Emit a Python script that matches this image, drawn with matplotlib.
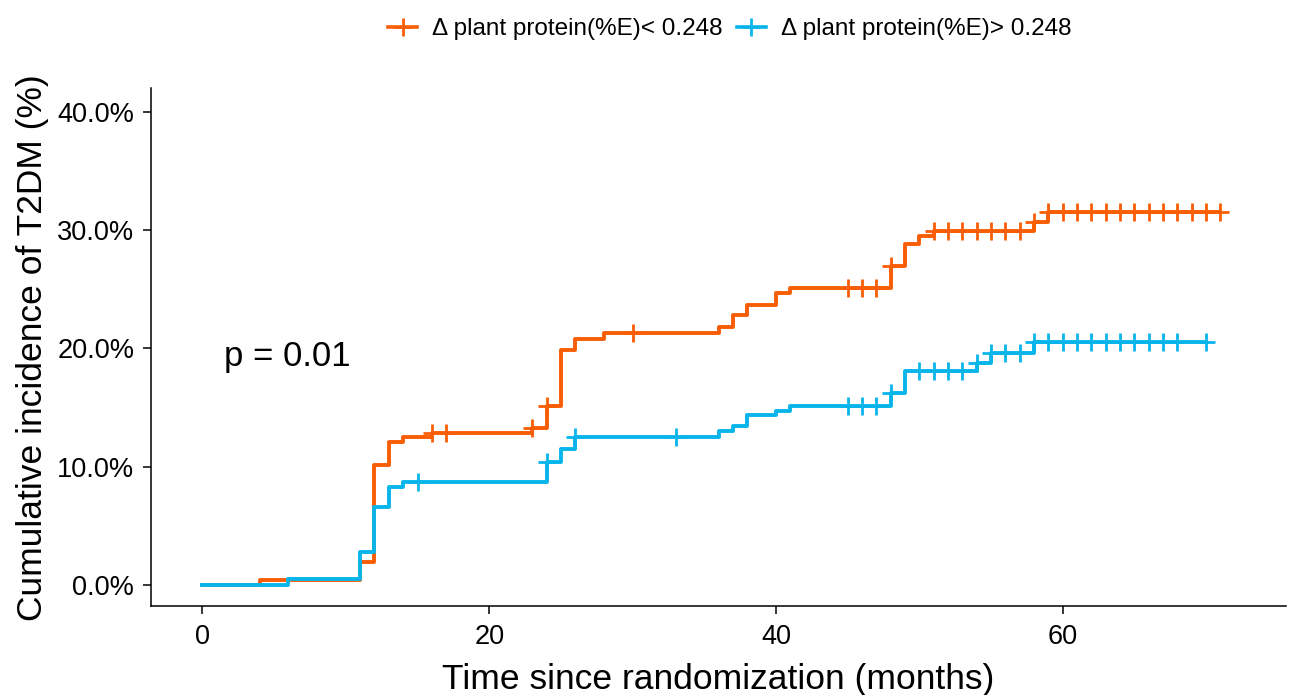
import numpy as np
import matplotlib
matplotlib.use('Agg')
from matplotlib import pyplot as plt
from matplotlib.lines import Line2D

plt.rcParams['font.family'] = ['Liberation Sans', 'DejaVu Sans']

# group: delta plant protein < 0.248
low_times = [0, 4, 11, 12, 13, 14, 16, 23, 24, 25, 26, 28, 36, 37, 38, 40, 41, 48, 49, 50, 51, 58, 59, 71]
low_cuminc = [0, 0.4, 1.9, 10.1, 12.1, 12.5, 12.8, 13.3, 15.1, 19.9, 20.8, 21.3, 21.8, 22.8, 23.7, 24.7, 25.1,
              27.0, 28.8, 29.5, 29.9, 30.7, 31.5, 31.5]
low_censor = [16, 17, 23, 24, 30, 45, 46, 47, 48, 51, 52, 53, 54, 55, 56, 57, 58,
              59, 60, 61, 62, 63, 64, 65, 66, 67, 68, 69, 70, 71]

# group: delta plant protein > 0.248
high_times = [0, 6, 11, 12, 13, 14, 24, 25, 26, 36, 37, 38, 40, 41, 48, 49, 54, 55, 58, 70]
high_cuminc = [0, 0.5, 2.8, 6.6, 8.3, 8.7, 10.4, 11.5, 12.5, 13.0, 13.4, 14.4, 14.7, 15.1,
               16.2, 18.1, 18.8, 19.6, 20.5, 20.5]
high_censor = [15, 24, 26, 33, 45, 46, 47, 48, 50, 51, 52, 53, 54, 55, 56, 57, 58,
               59, 60, 61, 62, 63, 64, 65, 66, 67, 68, 70]

labels = ['\u0394 plant protein(%E)< 0.248', '\u0394 plant protein(%E)> 0.248']
colors = ['#F95E04', '#08B5EA']
p_text = 'p = 0.01'

fig = plt.figure(figsize=(12.89, 6.95), dpi=100)
ax = fig.add_axes([0.117, 0.128, 0.881, 0.745])

groups = [(low_times, low_cuminc, low_censor), (high_times, high_cuminc, high_censor)]
for (t, y, c), col in zip(groups, colors):
    t = np.array(t)
    y = np.array(y)
    ax.step(t, y, where='post', color=col, lw=2.8, zorder=3)
    idx = np.searchsorted(t, c, side='right') - 1
    ax.plot(c, y[idx], ls='none', marker='+', ms=13, mew=2, color=col, zorder=4)

ax.text(1.5, 19.3, p_text, fontsize=25, ha='left', va='center')

ax.set_xlim(-3.6, 75.6)
ax.set_ylim(-1.8, 42.0)
ax.set_xticks([0, 20, 40, 60])
ax.set_yticks([0, 10, 20, 30, 40])
ax.set_yticklabels(['0.0%', '10.0%', '20.0%', '30.0%', '40.0%'])
ax.tick_params(labelsize=19.5, length=6, width=1.1, colors='black')
ax.tick_params(axis='x', pad=7)
ax.tick_params(axis='y', pad=6)
for s in ['top', 'right']:
    ax.spines[s].set_visible(False)
for s in ['left', 'bottom']:
    ax.spines[s].set_linewidth(1.1)
ax.set_xlabel('Time since randomization (months)', fontsize=25.5, labelpad=9)
ax.set_ylabel('Cumulative incidence of T2DM (%)', fontsize=25.5, labelpad=6)

handles = [Line2D([], [], color=col, lw=2.6, marker='+', ms=13, mew=2) for col in colors]
fig.legend(handles, labels, loc='upper center', bbox_to_anchor=(0.566, 1.005), ncol=2,
           frameon=False, fontsize=17.5, handlelength=1.2, handletextpad=0.6, columnspacing=0.6)

plt.savefig('out.png', dpi=100)
